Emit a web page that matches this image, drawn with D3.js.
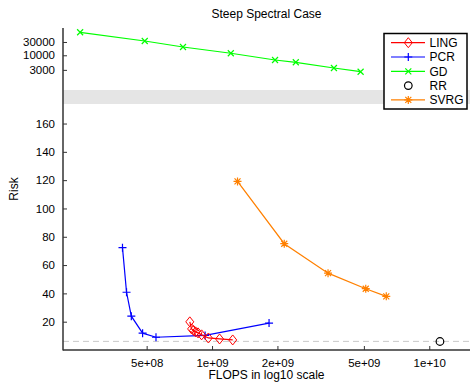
<!DOCTYPE html>
<html>
<head>
<meta charset="utf-8">
<script src="https://cdn.jsdelivr.net/npm/d3@7/dist/d3.min.js"></script>
<style>
  body { margin: 0; background: #fff; }
  svg { display: block; font-family: "Liberation Sans", Arial, Helvetica, sans-serif; }
</style>
</head>
<body>
<svg id="chart" width="470" height="384"></svg>
<script>
// ---- data ----
const lingX = [7.90e8, 8.05e8, 8.22e8, 8.40e8, 8.62e8, 8.95e8, 9.62e8, 1.083e9, 1.245e9];
const lingY = [19.9, 14.9, 13.8, 12.8, 12.1, 10.7, 8.5, 7.8, 7.1];
const pcrX = [3.87e8, 4.04e8, 4.25e8, 4.79e8, 5.52e8, 9.29e8, 1.83e9];
const pcrY = [72.3, 40.8, 23.9, 11.9, 9.0, 10.3, 19.0];
const gdX = [2.47e8, 4.90e8, 7.35e8, 1.22e9, 1.95e9, 2.43e9, 3.64e9, 4.83e9];
const gdY = [66700, 32500, 19800, 11800, 6780, 5610, 3510, 2580];
const rrX = [1.12e10];
const rrY = [6.0];
const svrgX = [1.31e9, 2.15e9, 3.42e9, 5.10e9, 6.34e9];
const svrgY = [119.1, 75.1, 54.3, 43.3, 37.9];
const optimalRisk = 6.1;

const xTicks = [5e8, 1e9, 2e9, 5e9, 1e10];
const xTickLabels = ["5e+08", "1e+09", "2e+09", "5e+09", "1e+10"];
const yLowTicks = [20, 40, 60, 80, 100, 120, 140, 160];
const yHighTicks = [3000, 10000, 30000];
const legendNames = ["LING", "PCR", "GD", "RR", "SVRG"];
const colors = { LING: "#ff0000", PCR: "#0000ff", GD: "#00ff00", RR: "#000000", SVRG: "#ff8000" };

// ---- layout ----
const svg = d3.select("#chart");
const left = 63, right = 470, bottom = 350;
const topHi = 28, breakTop = 90, breakBot = 104;

const x = d3.scaleLog().domain([2.06e8, 1.54e10]).range([left, right]);
const yLow = d3.scaleLinear().domain([0, 173.8]).range([bottom, breakBot]);
const yHigh = d3.scaleLog().domain([570, 95000]).range([breakTop, topHi]);

const axisColor = "#333";

// gray break band
svg.append("rect").attr("x", left).attr("y", breakTop).attr("width", right - left)
  .attr("height", breakBot - breakTop).attr("fill", "#e5e5e5");

// dashed optimal line
svg.append("line").attr("x1", left).attr("x2", right)
  .attr("y1", yLow(optimalRisk)).attr("y2", yLow(optimalRisk))
  .attr("stroke", "#c8c8c8").attr("stroke-width", 1).attr("stroke-dasharray", "6,4");

// axes
const xAxis = d3.axisBottom(x).tickValues(xTicks)
  .tickFormat((d, i) => xTickLabels[i]).tickSizeInner(-4).tickSizeOuter(0).tickPadding(9);
const gx = svg.append("g").attr("transform", `translate(0,${bottom})`).call(xAxis);

const yAxisLow = d3.axisLeft(yLow).tickValues(yLowTicks).tickSizeInner(-4).tickSizeOuter(0).tickPadding(8);
const gyl = svg.append("g").attr("transform", `translate(${left},0)`).call(yAxisLow);

const yAxisHigh = d3.axisLeft(yHigh).tickValues(yHighTicks).tickFormat(d3.format("d"))
  .tickSizeInner(-4).tickSizeOuter(0).tickPadding(8);
const gyh = svg.append("g").attr("transform", `translate(${left},0)`).call(yAxisHigh);

[gx, gyl, gyh].forEach(g => {
  g.selectAll("path.domain").remove();
  g.selectAll(".tick line").attr("stroke", axisColor).attr("stroke-width", 1);
  g.selectAll(".tick text").attr("fill", "#000").style("font-size", "11.5px")
    .style("font-family", '"Liberation Sans", Arial, sans-serif');
});

// axis lines
svg.append("line").attr("x1", left).attr("x2", left).attr("y1", topHi).attr("y2", bottom + 0.5)
  .attr("stroke", axisColor).attr("stroke-width", 1.5);
svg.append("line").attr("x1", left).attr("x2", right).attr("y1", bottom).attr("y2", bottom)
  .attr("stroke", axisColor).attr("stroke-width", 1.5);

// markers
function marker(g, type, cx, cy, color) {
  const s = 4;
  if (type === "LING") {
    g.append("path").attr("d", `M${cx},${cy - 5}L${cx + 4},${cy}L${cx},${cy + 5}L${cx - 4},${cy}Z`)
      .attr("fill", "none").attr("stroke", color).attr("stroke-width", 1);
  } else if (type === "PCR") {
    g.append("path").attr("d", `M${cx - s},${cy}H${cx + s}M${cx},${cy - s}V${cy + s}`)
      .attr("stroke", color).attr("stroke-width", 1.2);
  } else if (type === "GD") {
    const t = 3;
    g.append("path").attr("d", `M${cx - t},${cy - t}L${cx + t},${cy + t}M${cx - t},${cy + t}L${cx + t},${cy - t}`)
      .attr("stroke", color).attr("stroke-width", 1.2);
  } else if (type === "RR") {
    g.append("circle").attr("cx", cx).attr("cy", cy).attr("r", 3.8)
      .attr("fill", "none").attr("stroke", color).attr("stroke-width", 1.2);
  } else if (type === "SVRG") {
    const t = 3;
    g.append("path").attr("d", `M${cx - s},${cy}H${cx + s}M${cx},${cy - s}V${cy + s}M${cx - t},${cy - t}L${cx + t},${cy + t}M${cx - t},${cy + t}L${cx + t},${cy - t}`)
      .attr("stroke", color).attr("stroke-width", 1.2);
  }
}

const series = [
  { name: "GD", xs: gdX, ys: gdY, ys_scale: yHigh, line: true },
  { name: "SVRG", xs: svrgX, ys: svrgY, ys_scale: yLow, line: true },
  { name: "PCR", xs: pcrX, ys: pcrY, ys_scale: yLow, line: true },
  { name: "LING", xs: lingX, ys: lingY, ys_scale: yLow, line: true },
  { name: "RR", xs: rrX, ys: rrY, ys_scale: yLow, line: false }
];

series.forEach(s => {
  const pts = s.xs.map((v, i) => [x(v), s.ys_scale(s.ys[i])]);
  const g = svg.append("g");
  if (s.line) {
    g.append("path").attr("d", d3.line()(pts)).attr("fill", "none")
      .attr("stroke", colors[s.name]).attr("stroke-width", 1.2);
  }
  pts.forEach(p => marker(g, s.name, p[0], p[1], colors[s.name]));
});

// title and labels
svg.append("text").attr("x", (left + right) / 2).attr("y", 18).attr("text-anchor", "middle")
  .style("font-size", "12px").text("Steep Spectral Case");
svg.append("text").attr("x", (left + right) / 2).attr("y", 379).attr("text-anchor", "middle")
  .style("font-size", "12px").text("FLOPS in log10 scale");
svg.append("text").attr("transform", "translate(18,189) rotate(-90)").attr("text-anchor", "middle")
  .style("font-size", "12px").text("Risk");

// legend
const lg = svg.append("g");
lg.append("rect").attr("x", 384).attr("y", 33.5).attr("width", 83).attr("height", 75.5)
  .attr("fill", "#fff").attr("stroke", "#000").attr("stroke-width", 1.5);
legendNames.forEach((n, i) => {
  const yy = 42.7 + i * 14.3;
  if (n !== "RR") {
    lg.append("line").attr("x1", 391).attr("x2", 425).attr("y1", yy).attr("y2", yy)
      .attr("stroke", colors[n]).attr("stroke-width", 1.2);
  }
  marker(lg, n, 408.3, yy, colors[n]);
  lg.append("text").attr("x", 429.5).attr("y", yy + 4.2).style("font-size", "12px").text(n);
});
</script>
</body>
</html>
